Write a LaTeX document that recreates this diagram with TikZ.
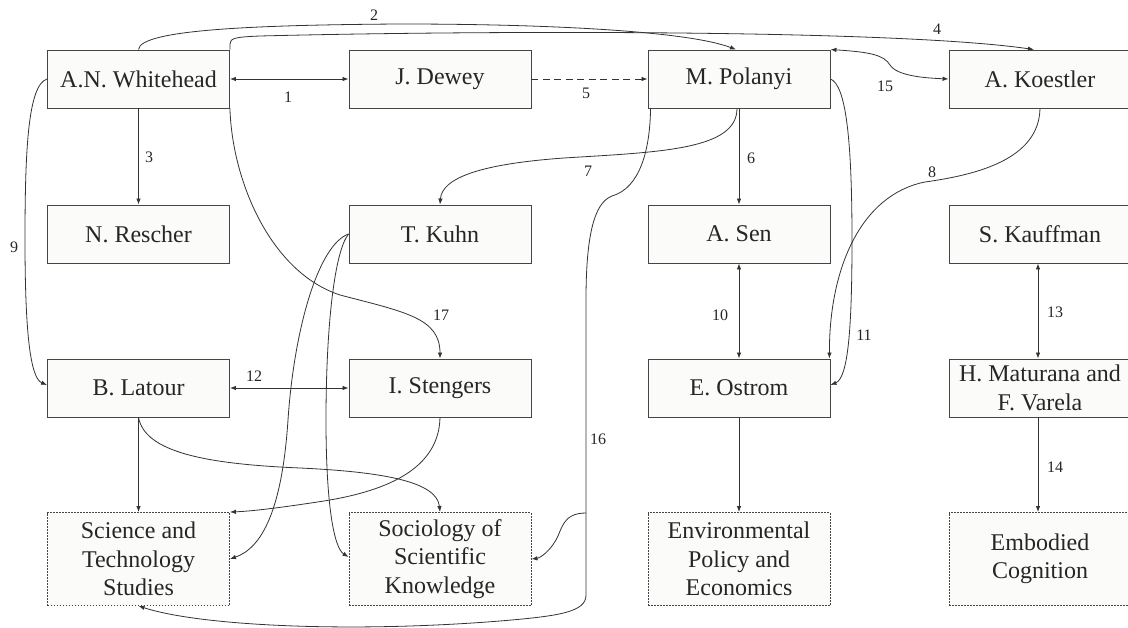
\documentclass[tikz,border=0pt]{standalone}
\usepackage{fontspec}
\setmainfont{Liberation Serif}
\usetikzlibrary{arrows.meta,calc}
\definecolor{ln}{HTML}{333333}
\definecolor{bx}{HTML}{454545}
\definecolor{bf}{HTML}{FBFBF9}
\tikzset{
  box/.style={draw=bx, line width=0.9pt, fill=bf, minimum width=182pt, minimum height=58pt, inner sep=0pt, align=center, text=black!85, font=\fontsize{24}{28.5}\selectfont},
  field/.style={box, dash pattern=on 1.8pt off 1.2pt, minimum height=93pt},
  conn/.style={draw=ln, line width=0.8pt, -{Latex[length=6pt,width=4.5pt]}},
  bconn/.style={conn, {Latex[length=6pt,width=4.5pt]}-{Latex[length=6pt,width=4.5pt]}},
  lbl/.style={font=\fontsize{16}{18}\selectfont, text=black!85, inner sep=0pt}
}
\begin{document}
\begin{tikzpicture}[x=1pt,y=-1pt]
\useasboundingbox[fill=white] (0,0) rectangle (1128,628);
% row 1
\node[box] (wh) at (138.5,79) {A.N. Whitehead};
\node[box] (dw) at (440,79) {J. Dewey};
\node[box] (pol) at (739,79) {M. Polanyi};
\node[box] (ko) at (1040,79) {A. Koestler};
% row 2
\node[box] (re) at (138.5,234) {N. Rescher};
\node[box] (ku) at (440,234) {T. Kuhn};
\node[box] (sen) at (739,234) {A. Sen};
\node[box] (ka) at (1040,234) {S. Kauffman};
% row 3
\node[box] (la) at (138.5,388) {B. Latour};
\node[box] (st) at (440,388) {I. Stengers};
\node[box] (os) at (739,388) {E. Ostrom};
\node[box] (ma) at (1040,388) {H. Maturana and\\F. Varela};
% row 4
\node[field] (sts) at (138.5,559) {Science and\\Technology\\Studies};
\node[field] (ssk) at (440,559) {Sociology of\\Scientific\\Knowledge};
\node[field] (epe) at (739,559) {Environmental\\Policy and\\Economics};
\node[field] (emb) at (1040,559) {Embodied\\Cognition};

\coordinate (b16) at (586,513);

% 1
\draw[bconn] (wh.east) -- (dw.west);
% 2
\draw[conn] (wh.north) .. controls (140,30) and (250,25) .. (400,24) .. controls (560,24) and (690,32) .. ($(pol.north)+(-3,0)$);
% 4
\draw[conn] (wh.north east) -- (230,44) .. controls (230,38) and (236,37) .. (260,36) .. controls (500,30) and (900,30) .. ($(ko.north)+(-6,0)$);
% 3
\draw[conn] (wh.south) -- (re.north);
% 5
\draw[conn, dash pattern=on 7pt off 4.5pt] (dw.east) -- (pol.west);
% 6
\draw[conn] (pol.south) -- (sen.north);
% 7
\draw[conn] ($(pol.south)+(-2,0)$) .. controls (737,150) and (660,152) .. (564,158) .. controls (480,164) and (442,178) .. (ku.north);
% 8
\draw[conn] (ko.south) .. controls (1039,160) and (975,175) .. (925,182) .. controls (860,195) and (829,270) .. ($(os.north east)+(-1,0)$);
% 9
\draw[conn] (wh.west) .. controls (28,85) and (25,150) .. (25,240) .. controls (25,330) and (30,378) .. ($(la.west)+(0,-3)$);
% 10
\draw[bconn] (sen.south) -- (os.north);
% 11
\draw[conn] (pol.east) .. controls (846,85) and (852,140) .. (852,240) .. controls (852,330) and (848,378) .. ($(os.east)+(0,-3)$);
% 12
\draw[bconn] (la.east) -- (st.west);
% 13
\draw[bconn] ($(ka.south)+(-2,0)$) -- ($(ma.north)+(-2,0)$);
% 14
\draw[conn] ($(ma.south)+(-2,0)$) -- ($(emb.north)+(-2,0)$);
% 15
\draw[bconn] (pol.north east) .. controls (870,52) and (884,55) .. (890,65) .. controls (897,76) and (925,78) .. (ko.west);
% 16
\draw[conn] ($(pol.south west)+(3,0)$) .. controls (650,150) and (640,188) .. (612,196) .. controls (593,203) and (586,240) .. (586,300) -- (586,595) .. controls (586,612) and (560,616) .. (500,621) .. controls (350,633) and (200,626) .. (sts.south);
\draw[conn] (b16) .. controls (562,513) and (562,530) .. (556,540) .. controls (549,552) and (540,558) .. (ssk.east);
% 17
\draw[conn] (wh.south east) .. controls (232,180) and (270,272) .. (340,295) .. controls (405,312) and (440,318) .. (st.north);
% Kuhn
\draw[conn] (ku.west) .. controls (318,245) and (294,330) .. (288,420) .. controls (282,510) and (262,548) .. (sts.east);
\draw[conn] (ku.west) .. controls (334,252) and (326,330) .. (326,420) .. controls (326,505) and (334,548) .. ($(ssk.west)+(0,-2)$);
% Latour
\draw[conn] (la.south) -- (sts.north);
\draw[conn] (la.south) .. controls (145,452) and (205,464) .. (300,468) .. controls (385,472) and (437,482) .. (ssk.north);
% Stengers
\draw[conn] (st.south) .. controls (439,472) and (380,492) .. (324,501) .. controls (285,507) and (255,511) .. (sts.north east);
% Ostrom
\draw[conn] (os.south) -- (epe.north);

% labels
\node[lbl] (l1) at (288,97) {1};
\node[lbl] (l2) at (374,15) {2};
\node[lbl] (l3) at (149,157) {3};
\node[lbl] (l4) at (937,29) {4};
\node[lbl] (l5) at (586,93) {5};
\node[lbl] (l6) at (751,158) {6};
\node[lbl] (l7) at (588,171) {7};
\node[lbl] (l8) at (932,172) {8};
\node[lbl] (l9) at (14,247) {9};
\node[lbl] (l10) at (720,315) {10};
\node[lbl] (l11) at (864,335) {11};
\node[lbl] (l12) at (254,376) {12};
\node[lbl] (l13) at (1055,312) {13};
\node[lbl] (l14) at (1055,467) {14};
\node[lbl] (l15) at (885,86) {15};
\node[lbl] (l16) at (598,439) {16};
\node[lbl] (l17) at (441,315) {17};
\end{tikzpicture}
\end{document}
